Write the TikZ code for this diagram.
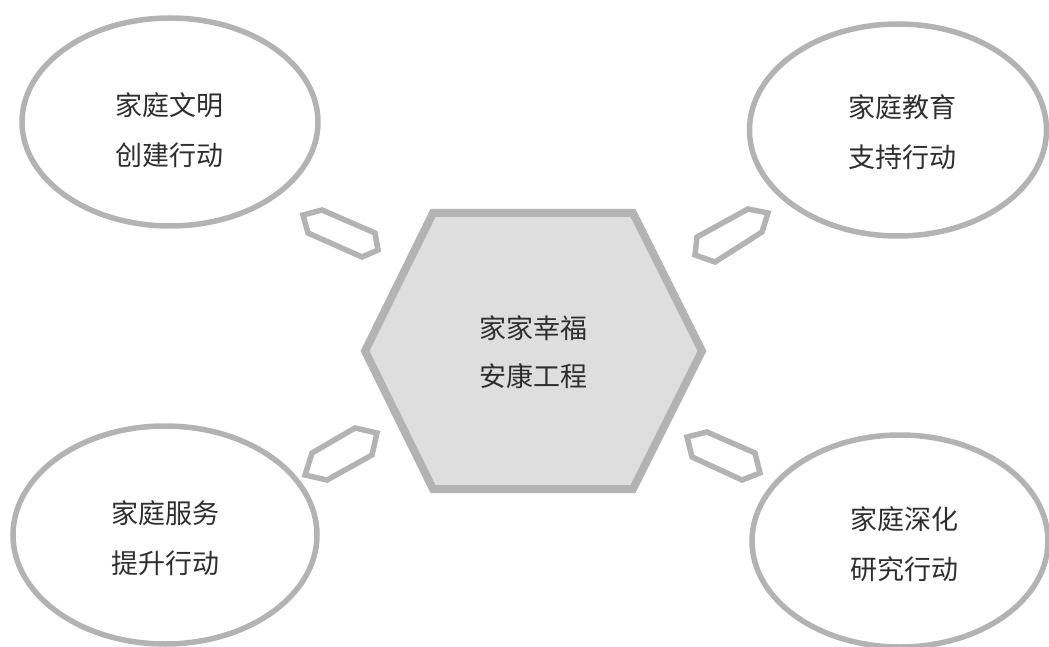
\documentclass[tikz,border=0pt]{standalone}
\usepackage{fontspec}
\newfontfamily\cjk{Noto Sans CJK SC}
\usetikzlibrary{shapes.geometric}
\definecolor{edgegray}{HTML}{B3B3B3}
\definecolor{hexfill}{HTML}{DEDEDE}
\definecolor{txtgray}{HTML}{2E2E2E}
\tikzset{
  bubble/.style={ellipse, draw=edgegray, line width=5.5pt, fill=white, inner sep=0pt},
  label text/.style={align=center, text=txtgray, font=\cjk\fontsize{27}{50}\selectfont},
  linkhex/.style={draw=edgegray, line width=5.5pt, line join=miter, fill=white},
  corehex/.style={draw=edgegray, line width=8pt, line join=miter, fill=hexfill}
}
\begin{document}
\begin{tikzpicture}[x=1pt,y=-1pt]
\useasboundingbox (0,0) rectangle (1049,647);
% central hexagon
\draw[corehex] (365,351) -- (433,213) -- (633,213) -- (702,351) -- (633,489) -- (433,489) -- cycle;
\node[label text] (core) at (533,352) {家家幸福\\[-2pt]安康工程};
% ellipses
\node[bubble, minimum width=296pt, minimum height=208pt] (tl) at (170,122) {};
\node[label text] (tltext) at (169,130) {家庭文明\\创建行动};
\node[bubble, minimum width=297pt, minimum height=212pt] (tr) at (898,130) {};
\node[label text] (trtext) at (902,132) {家庭教育\\支持行动};
\node[bubble, minimum width=304pt, minimum height=218pt] (bl) at (165,535) {};
\node[label text] (bltext) at (165,538) {家庭服务\\提升行动};
\node[bubble, minimum width=296pt, minimum height=212pt] (br) at (900,541) {};
\node[label text] (brtext) at (904,544) {家庭深化\\研究行动};
% link hexagons
\draw[linkhex] (303,215) -- (322,210) -- (375,233) -- (378,250) -- (362,257) -- (308,233) -- cycle;
\draw[linkhex] (697,237) -- (748,209) -- (768,213) -- (762,232) -- (715,262) -- (695,255) -- cycle;
\draw[linkhex] (312,453) -- (355,428) -- (377,433) -- (372,455) -- (327,480) -- (305,475) -- cycle;
\draw[linkhex] (687,437) -- (707,432) -- (755,453) -- (760,473) -- (742,480) -- (692,457) -- cycle;
\end{tikzpicture}
\end{document}
